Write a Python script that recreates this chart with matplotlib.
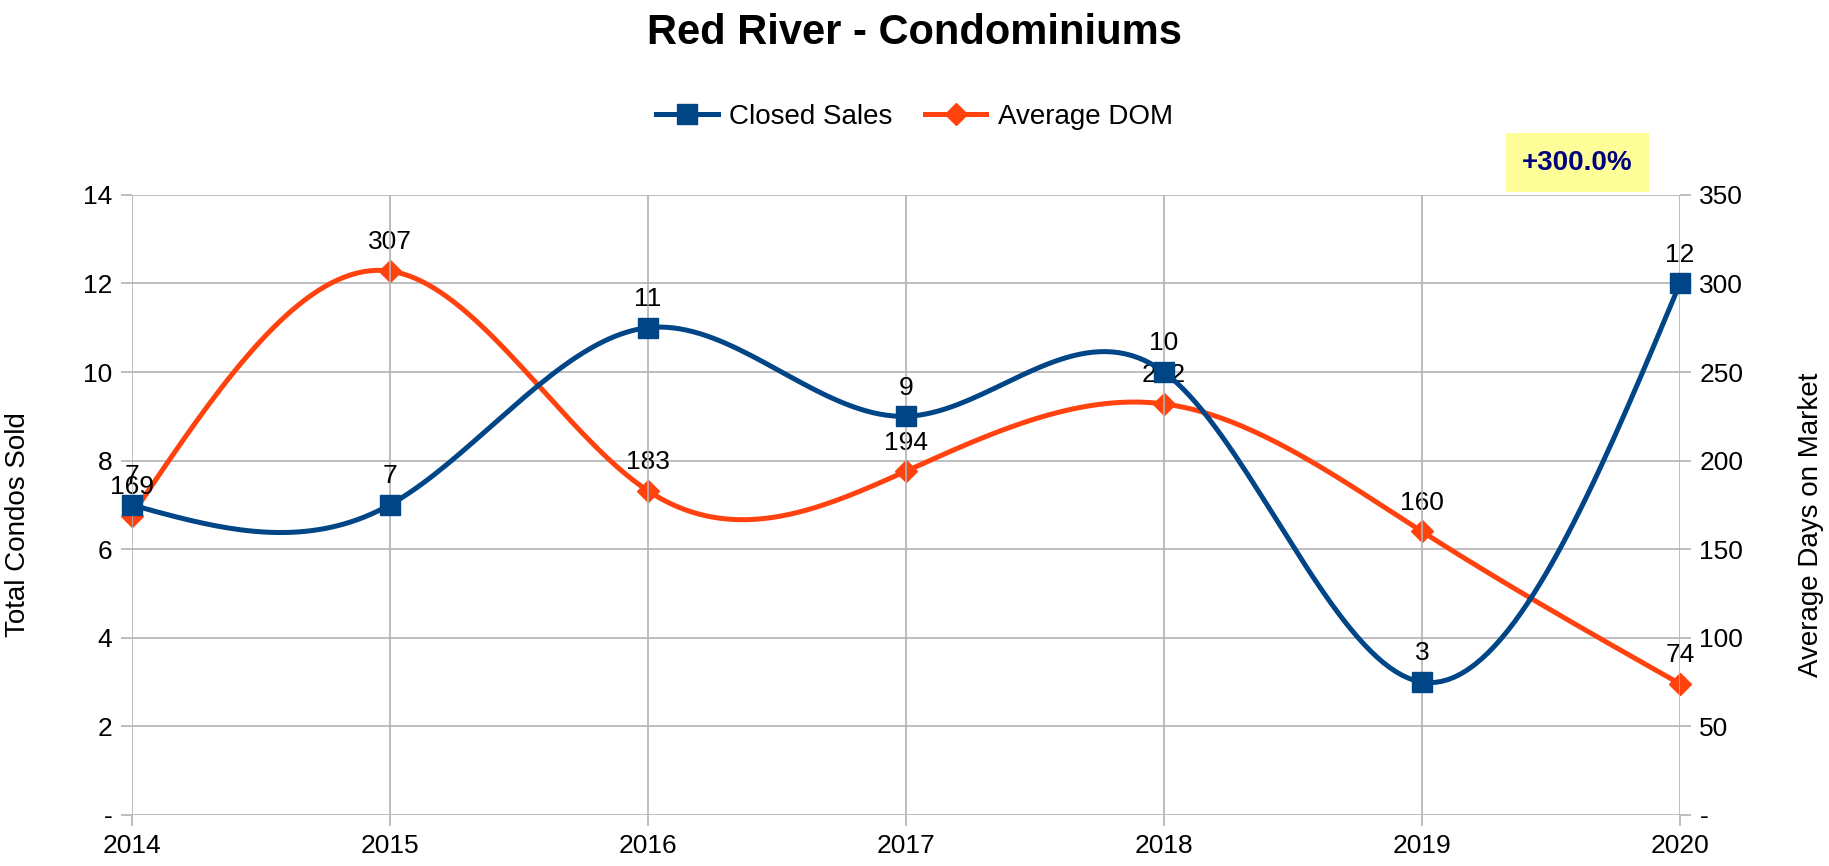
import matplotlib

matplotlib.use("Agg")

import matplotlib.pyplot as plt
import numpy as np


plt.rcParams["font.family"] = ["Liberation Sans", "DejaVu Sans"]


# ==================================================
# DATA
# ==================================================

years = [2014, 2015, 2016, 2017, 2018, 2019, 2020]

closed_sales = [7, 7, 11, 9, 10, 3, 12]

average_dom = [169, 307, 183, 194, 232, 160, 74]

change_label = "+300.0%"


BLUE = "#004586"
ORANGE = "#ff420e"
GRID = "#b3b3b3"


# ==================================================
# HELPERS
# ==================================================

def _natural_spline(x, y, per_seg=40):
    """Smooth line through the points (natural cubic spline),
    like the spreadsheet's 'cubic spline' line type."""

    x = np.asarray(x, dtype=float)
    y = np.asarray(y, dtype=float)
    n = len(x)
    h = np.diff(x)

    A = np.zeros((n, n))
    b = np.zeros(n)
    A[0, 0] = 1
    A[-1, -1] = 1
    for i in range(1, n - 1):
        A[i, i - 1] = h[i - 1]
        A[i, i] = 2 * (h[i - 1] + h[i])
        A[i, i + 1] = h[i]
        b[i] = 3 * ((y[i + 1] - y[i]) / h[i] - (y[i] - y[i - 1]) / h[i - 1])
    c = np.linalg.solve(A, b)

    xs, ys = [], []
    for i in range(n - 1):
        bi = (y[i + 1] - y[i]) / h[i] - h[i] * (2 * c[i] + c[i + 1]) / 3
        di = (c[i + 1] - c[i]) / (3 * h[i])
        t = np.linspace(0, h[i], per_seg, endpoint=(i == n - 2))
        xs.append(x[i] + t)
        ys.append(y[i] + bi * t + c[i] * t ** 2 + di * t ** 3)

    return np.concatenate(xs), np.concatenate(ys)


def _dash_zero(v, pos):
    return "-" if v == 0 else f"{v:g}"


# ==================================================
# CHART
# ==================================================

fig = plt.figure(figsize=(18.29, 8.66), dpi=100)

ax = fig.add_axes([0.072, 0.059, 0.8465, 0.716])
ax2 = ax.twinx()

ax.set_zorder(ax2.get_zorder() + 1)
ax.patch.set_visible(False)


# DOM on the secondary axis
sx, sy = _natural_spline(years, average_dom)
ax2.plot(sx, sy, color=ORANGE, linewidth=3.6, zorder=3, clip_on=False)
ax2.plot(years, average_dom, linestyle="none", marker="D",
         markersize=11, color=ORANGE, zorder=4, clip_on=False)

for x, v in zip(years, average_dom):
    ax2.annotate(str(v), (x, v), xytext=(0, 12), textcoords="offset points",
                 ha="center", va="bottom", fontsize=19, color="black")


# closed sales on the primary axis
sx, sy = _natural_spline(years, closed_sales)
ax.plot(sx, sy, color=BLUE, linewidth=3.6, zorder=3, clip_on=False)
ax.plot(years, closed_sales, linestyle="none", marker="s",
        markersize=15, color=BLUE, zorder=4, clip_on=False)

for x, v in zip(years, closed_sales):
    ax.annotate(str(v), (x, v), xytext=(0, 12), textcoords="offset points",
                ha="center", va="bottom", fontsize=19, color="black")


ax.set_xlim(years[0], years[-1])
ax.set_ylim(0, 14)
ax2.set_ylim(0, 350)

ax.set_xticks(years)
ax.set_yticks(range(0, 15, 2))
ax2.set_yticks(range(0, 351, 50))

ax.yaxis.set_major_formatter(plt.FuncFormatter(_dash_zero))
ax2.yaxis.set_major_formatter(plt.FuncFormatter(_dash_zero))

ax2.grid(True, axis="y", color=GRID, linewidth=1.2)
ax.grid(True, axis="x", color=GRID, linewidth=1.2)
ax2.set_axisbelow(True)

for a in (ax, ax2):
    for side in a.spines.values():
        side.set_visible(False)
    a.tick_params(axis="both", labelsize=19, colors=GRID, labelcolor="black",
                  length=8, width=1.2, pad=6)

ax.set_ylabel("Total Condos Sold", fontsize=20)
ax2.set_ylabel("Average Days on Market", fontsize=20)
ax.yaxis.set_label_coords(-0.065, 0.468)
ax2.yaxis.set_label_coords(1.076, 0.468)


# ==================================================
# TITLE, LEGEND, BADGE
# ==================================================

fig.text(0.5, 0.985, "Red River - Condominiums", ha="center", va="top",
         fontsize=30, fontweight="bold")

handles = [
    plt.Line2D([], [], color=BLUE, linewidth=3.6, marker="s", markersize=15),
    plt.Line2D([], [], color=ORANGE, linewidth=3.6, marker="D", markersize=11),
]

fig.legend(handles, ["Closed Sales", "Average DOM"], loc="center",
           bbox_to_anchor=(0.5, 0.865), ncol=2, frameon=False, fontsize=20,
           handlelength=2.2, columnspacing=1.2, handletextpad=0.4)

fig.text(0.8625, 0.812, change_label, ha="center", va="center",
         fontsize=20, fontweight="bold", color="#000080",
         bbox=dict(boxstyle="square,pad=0.6", facecolor="#ffff99",
                   edgecolor="none"))


fig.savefig("out.png", dpi=100)

plt.close(fig)
